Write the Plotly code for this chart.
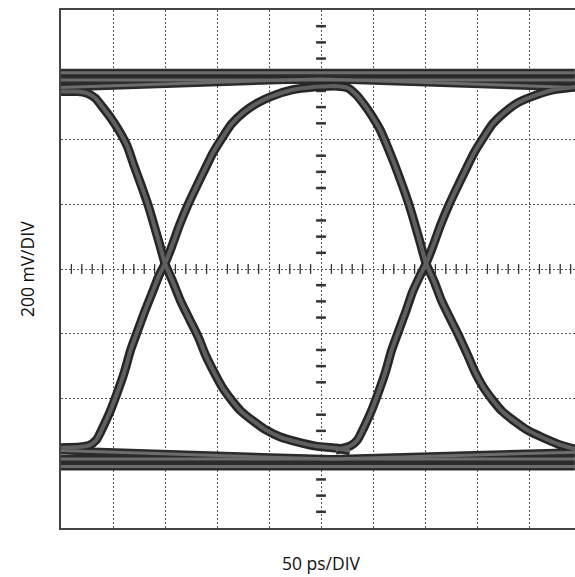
import plotly.graph_objects as go

# ---- data (time in ps, voltage in mV) ----
t_fall1 = [0, 16, 25, 33, 40, 48, 56, 64, 70, 77, 84, 90, 95, 100, 108, 115, 124, 132, 139, 147, 155, 164, 173, 185, 197, 211, 227, 245, 264, 278]
v_fall1 = [548, 548, 543, 528, 500, 466, 426, 377, 321, 260, 195, 130, 74, 17, -43, -99, -158, -210, -266, -318, -365, -405, -439, -470, -497, -519, -534, -547, -553, -562]

t_rise1 = [0, 18, 27, 34, 40, 47, 54, 61, 67, 74, 81, 88, 94, 100, 107, 114, 122, 130, 138, 146, 155, 164, 176, 189, 203, 222, 243, 264]
v_rise1 = [-552, -550, -545, -528, -491, -442, -383, -318, -250, -188, -127, -71, -22, 17, 74, 136, 198, 253, 306, 358, 405, 448, 485, 513, 534, 553, 562, 565]

t_fall2 = [264, 276, 284, 291, 299, 307, 314, 321, 328, 335, 341, 346, 351, 359, 366, 375, 383, 391, 398, 406, 415, 424, 436, 448, 462, 478, 494]
v_fall2 = [565, 559, 538, 510, 473, 429, 377, 321, 260, 195, 130, 74, 17, -40, -99, -158, -210, -266, -318, -365, -405, -439, -470, -497, -519, -541, -556]

t_rise2 = [264, 278, 285, 291, 298, 305, 312, 318, 325, 332, 338, 345, 351, 358, 365, 373, 381, 389, 397, 406, 415, 427, 439, 454, 473, 494]
v_rise2 = [-559, -547, -528, -491, -442, -383, -318, -250, -188, -127, -71, -22, 17, 74, 136, 198, 253, 306, 358, 405, 448, 485, 513, 534, 553, 562]

t_rail_hi_a = [0, 494]
v_rail_hi_a = [606, 606]
t_rail_hi_b = [0, 494]
v_rail_hi_b = [584, 584]
t_rail_hi_c = [0, 249, 494]
v_rail_hi_c = [561, 587, 561]

t_rail_lo_a = [0, 494]
v_rail_lo_a = [-610, -610]
t_rail_lo_b = [0, 494]
v_rail_lo_b = [-587, -587]
t_rail_lo_c = [0, 260, 494]
v_rail_lo_c = [-561, -587, -566]

PS_PER_DIV = 50
MV_PER_DIV = 200
N_XDIV = 10
N_YDIV = 8
X_VISIBLE = 494.2  # right part of the screen is cropped

x_title = "50 ps/DIV"
y_title = "200 mV/DIV"

# ---- figure ----
fig = go.Figure()

curves = [(t_fall1, v_fall1), (t_rise1, v_rise1), (t_fall2, v_fall2), (t_rise2, v_rise2)]
rails = [(t_rail_hi_a, v_rail_hi_a), (t_rail_hi_b, v_rail_hi_b), (t_rail_hi_c, v_rail_hi_c),
         (t_rail_lo_a, v_rail_lo_a), (t_rail_lo_b, v_rail_lo_b), (t_rail_lo_c, v_rail_lo_c)]

# center-line graticule ticks
xc = PS_PER_DIV * N_XDIV / 2
tick_x = [k * PS_PER_DIV / 5 for k in range(0, N_XDIV * 5 + 1) if k % 5 != 0]
tick_y = [(-N_YDIV / 2) * MV_PER_DIV + k * MV_PER_DIV / 4 for k in range(0, N_YDIV * 4 + 1) if k % 4 != 0]
fig.add_trace(go.Scatter(x=tick_x, y=[0] * len(tick_x), mode="markers",
                         marker=dict(symbol="line-ns", size=7, line=dict(width=1.3, color="#333")),
                         hoverinfo="skip", showlegend=False))
fig.add_trace(go.Scatter(x=[xc] * len(tick_y), y=tick_y, mode="markers",
                         marker=dict(symbol="line-ew", size=7, line=dict(width=2.5, color="#333")),
                         hoverinfo="skip", showlegend=False))

# dark outer bands
for t, v in rails:
    fig.add_trace(go.Scatter(x=t, y=v, mode="lines", line=dict(color="#2b2b2b", width=8),
                             hoverinfo="skip", showlegend=False))
for t, v in curves:
    fig.add_trace(go.Scatter(x=t, y=v, mode="lines", line=dict(color="#262626", width=9, shape="spline", smoothing=0.6),
                             hoverinfo="skip", showlegend=False))
# lighter inner cores
for t, v in rails:
    fig.add_trace(go.Scatter(x=t, y=v, mode="lines", line=dict(color="#6c6c6c", width=3),
                             hoverinfo="skip", showlegend=False))
for t, v in curves:
    fig.add_trace(go.Scatter(x=t, y=v, mode="lines", line=dict(color="#5f5f5f", width=4, shape="spline", smoothing=0.6),
                             hoverinfo="skip", showlegend=False))

fig.update_layout(
    width=575, height=577,
    margin=dict(l=61, r=0, t=10, b=49),
    paper_bgcolor="white", plot_bgcolor="white",
    showlegend=False,
    xaxis=dict(range=[0, X_VISIBLE], dtick=PS_PER_DIV, tick0=0, showticklabels=False, ticks="",
               showgrid=True, gridcolor="#555", griddash="2px,2px", gridwidth=1, zeroline=False,
               showline=True, linecolor="#444", linewidth=2, mirror=True, fixedrange=True),
    yaxis=dict(range=[-N_YDIV / 2 * MV_PER_DIV, N_YDIV / 2 * MV_PER_DIV], dtick=MV_PER_DIV, tick0=0,
               showticklabels=False, ticks="",
               showgrid=True, gridcolor="#555", griddash="2px,2px", gridwidth=1, zeroline=False,
               showline=True, linecolor="#444", linewidth=2, mirror=False, fixedrange=True),
    annotations=[
        dict(text=x_title, xref="x", yref="paper", x=xc, y=-0.068, xanchor="center", yanchor="middle",
             showarrow=False, font=dict(family="Open Sans", size=17.5, color="#111")),
        dict(text=y_title, xref="paper", yref="y", x=-0.066, y=0, xanchor="center", yanchor="middle",
             textangle=-90, showarrow=False, font=dict(family="Open Sans", size=17.5, color="#111")),
    ],
)

fig.write_html("out.html", config={"displayModeBar": False},
               post_script="document.body.style.margin='0';document.body.style.overflow='hidden';")
